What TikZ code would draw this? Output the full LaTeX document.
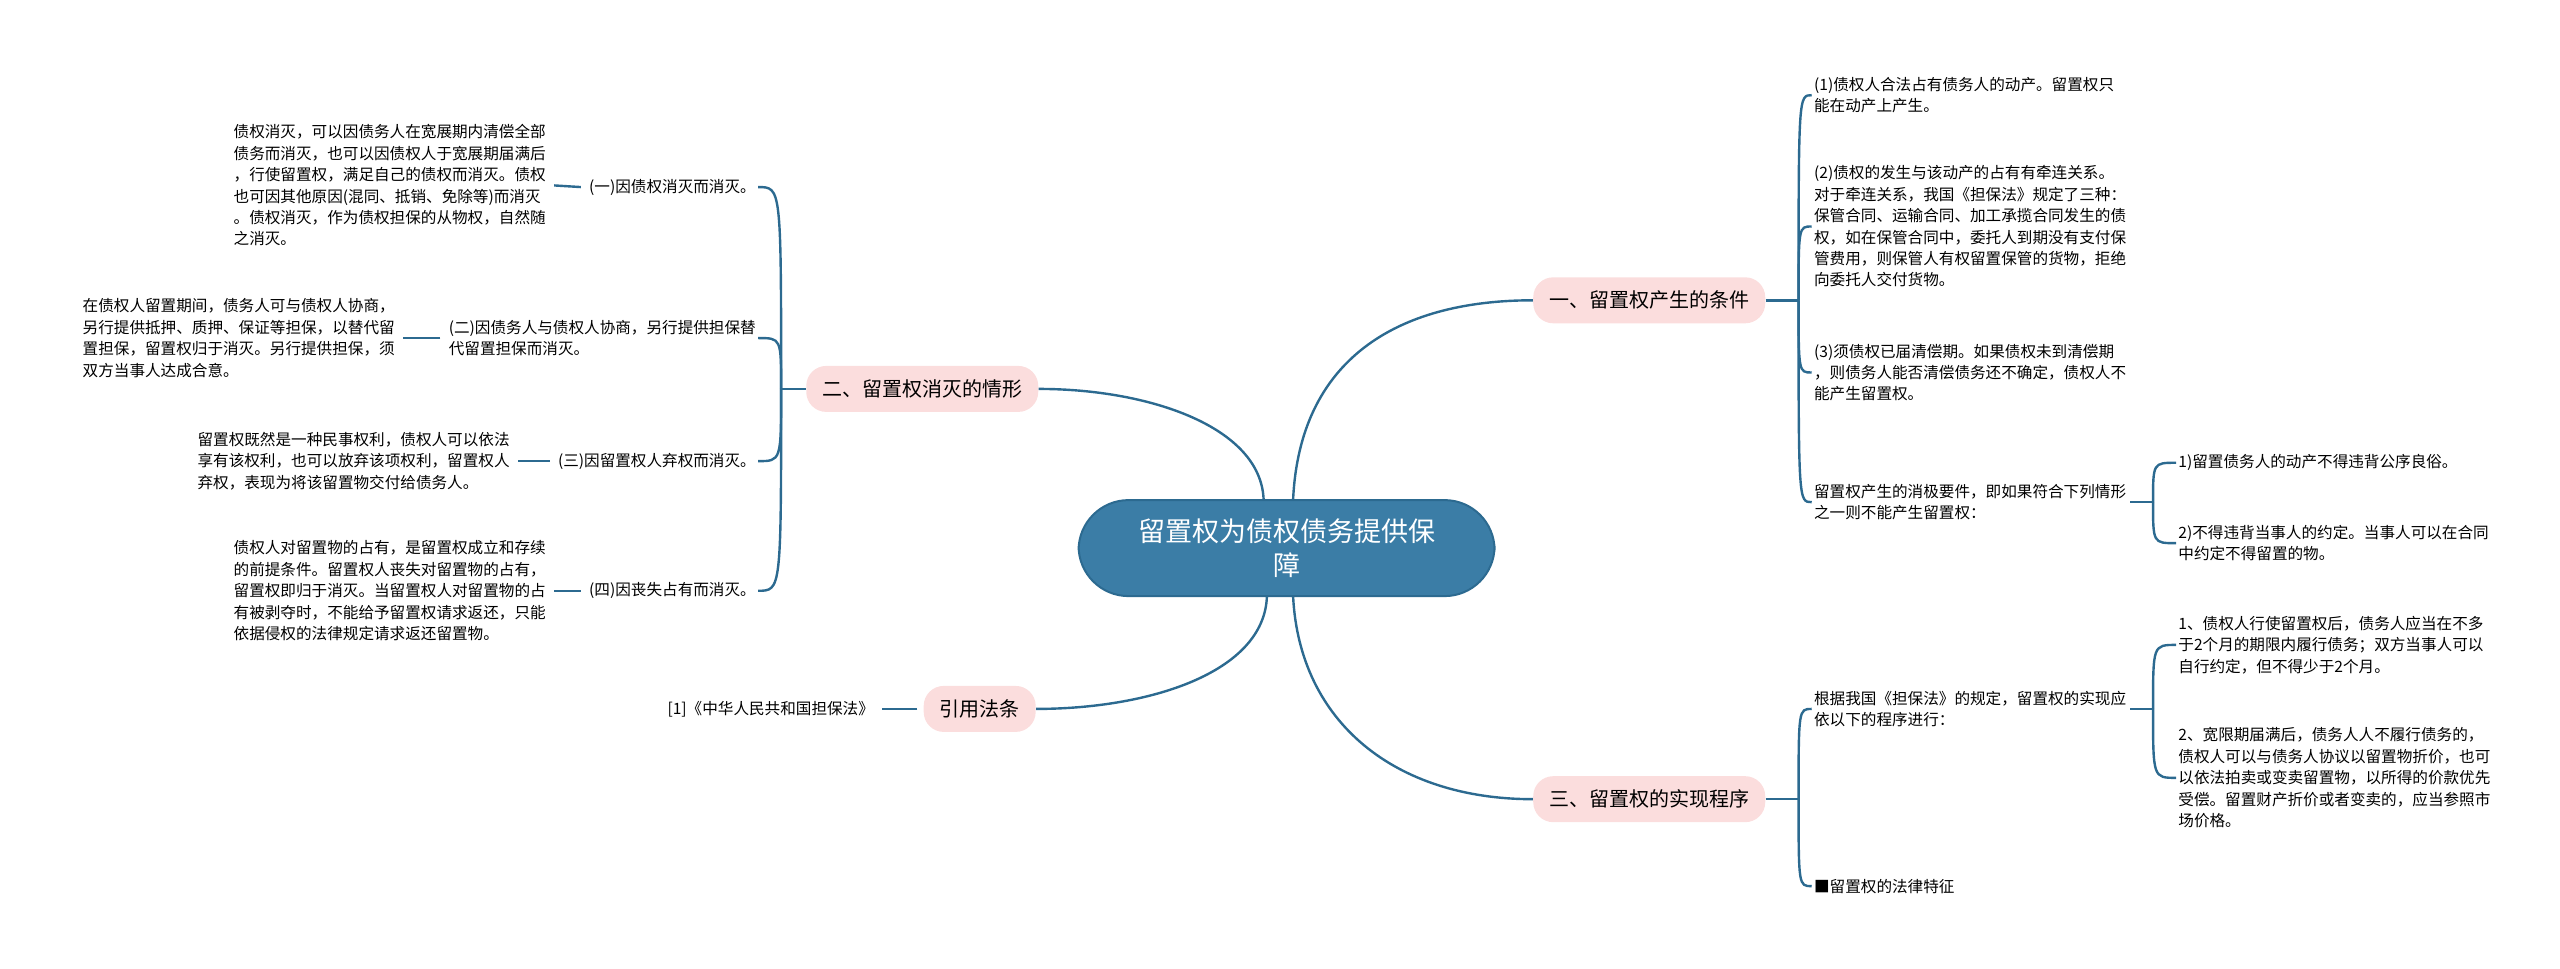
\documentclass[tikz,border=0pt]{standalone}
\usepackage{fontspec}
\setmainfont{Noto Sans CJK SC}
\definecolor{linkBlue}{HTML}{2C6A90}
\definecolor{rootBlue}{HTML}{3B7DA6}
\definecolor{topicPink}{HTML}{FBDDDD}
\begin{document}
\begin{tikzpicture}[x=0.8205pt, y=-0.8205pt]
        \tikzstyle{rootStyle} = [rectangle, rounded corners=25pt, fill=rootBlue, draw=linkBlue,
            line width=1pt, text=white, font=\fontsize{13.5}{17}\selectfont,
            minimum width=208pt, minimum height=48pt, align=center]
        \tikzstyle{topicStyle} = [rectangle, rounded corners=10pt, fill=topicPink,
            font=\fontsize{10}{12}\selectfont, minimum height=23pt, inner xsep=8pt]
        \tikzstyle{leafStyle} = [font=\fontsize{7.8}{10.7}\selectfont, align=left, inner sep=1pt]
        \tikzstyle{linkEdge} = [draw=linkBlue, line width=1.2pt]
        \useasboundingbox (0,0) rectangle (1560,590);
        % root and main topics
        \node[rootStyle] (root) at (784,334) {留置权为债权债务提供保\\障};
        \node[topicStyle] (cond) at (1005,183) {一、留置权产生的条件};
        \node[topicStyle] (proc) at (1005,487) {三、留置权的实现程序};
        \node[topicStyle] (ends) at (562,237) {二、留置权消灭的情形};
        \node[topicStyle] (laws) at (597,432) {引用法条};
        \path[linkEdge] (root.north) ++(4,0) .. controls (792,220) and (850,183) .. (cond.west);
        \path[linkEdge] (root.south) ++(4,0) .. controls (792,440) and (850,487) .. (proc.west);
        \path[linkEdge] (root.north) ++(-14,0) .. controls (768,260) and (700,237) .. (ends.east);
        \path[linkEdge] (root.south) ++(-12,0) .. controls (770,410) and (700,432) .. (laws.east);
        % conditions
        \node[leafStyle, anchor=west] (c1) at (1104,58) {(1)债权人合法占有债务人的动产。留置权只\\能在动产上产生。};
        \node[leafStyle, anchor=west] (c2) at (1104,138) {(2)债权的发生与该动产的占有有牵连关系。\\对于牵连关系，我国《担保法》规定了三种：\\保管合同、运输合同、加工承揽合同发生的债\\权，如在保管合同中，委托人到期没有支付保\\管费用，则保管人有权留置保管的货物，拒绝\\向委托人交付货物。};
        \node[leafStyle, anchor=west] (c3) at (1104,227) {(3)须债权已届清偿期。如果债权未到清偿期\\，则债务人能否清偿债务还不确定，债权人不\\能产生留置权。};
        \node[leafStyle, anchor=west] (c4) at (1104,306) {留置权产生的消极要件，即如果符合下列情形\\之一则不能产生留置权：};
        \node[leafStyle, anchor=west] (c41) at (1326,282) {1)留置债务人的动产不得违背公序良俗。};
        \node[leafStyle, anchor=west] (c42) at (1326,331) {2)不得违背当事人的约定。当事人可以在合同\\中约定不得留置的物。};
        % procedure
        \node[leafStyle, anchor=west] (p1) at (1104,432) {根据我国《担保法》的规定，留置权的实现应\\依以下的程序进行：};
        \node[leafStyle, anchor=west] (p2) at (1104,540) {■留置权的法律特征};
        \node[leafStyle, anchor=west] (p11) at (1326,393) {1、债权人行使留置权后，债务人应当在不多\\于2个月的期限内履行债务；双方当事人可以\\自行约定，但不得少于2个月。};
        \node[leafStyle, anchor=west] (p12) at (1326,474) {2、宽限期届满后，债务人人不履行债务的，\\债权人可以与债务人协议以留置物折价，也可\\以依法拍卖或变卖留置物，以所得的价款优先\\受偿。留置财产折价或者变卖的，应当参照市\\场价格。};
        % extinction
        \node[leafStyle, anchor=east] (e1) at (462,114) {(一)因债权消灭而消灭。};
        \node[leafStyle, anchor=east] (e2) at (462,206) {(二)因债务人与债权人协商，另行提供担保替\\代留置担保而消灭。};
        \node[leafStyle, anchor=east] (e3) at (462,281) {(三)因留置权人弃权而消灭。};
        \node[leafStyle, anchor=east] (e4) at (462,360) {(四)因丧失占有而消灭。};
        \node[leafStyle, anchor=east] (d1) at (334,113) {债权消灭，可以因债务人在宽展期内清偿全部\\债务而消灭，也可以因债权人于宽展期届满后\\，行使留置权，满足自己的债权而消灭。债权\\也可因其他原因(混同、抵销、免除等)而消灭\\。债权消灭，作为债权担保的从物权，自然随\\之消灭。};
        \node[leafStyle, anchor=east] (d2) at (242,206) {在债权人留置期间，债务人可与债权人协商，\\另行提供抵押、质押、保证等担保，以替代留\\置担保，留置权归于消灭。另行提供担保，须\\双方当事人达成合意。};
        \node[leafStyle, anchor=east] (d3) at (312,281) {留置权既然是一种民事权利，债权人可以依法\\享有该权利，也可以放弃该项权利，留置权人\\弃权，表现为将该留置物交付给债务人。};
        \node[leafStyle, anchor=east] (d4) at (334,360) {债权人对留置物的占有，是留置权成立和存续\\的前提条件。留置权人丧失对留置物的占有，\\留置权即归于消灭。当留置权人对留置物的占\\有被剥夺时，不能给予留置权请求返还，只能\\依据侵权的法律规定请求返还留置物。};
        \node[leafStyle, anchor=east] (l1) at (534,432) {[1]《中华人民共和国担保法》};
        % brackets
        \coordinate (jc) at (1096,183);
        \coordinate (jp) at (1096,487);
        \coordinate (jn) at (1312,306);
        \coordinate (jq) at (1312,432);
        \coordinate (je) at (476,237);
        \path[linkEdge] (cond.east) -- (jc) (proc.east) -- (jp) (ends.west) -- (je)
            (1298,306) -- (jn) (1298,432) -- (jq);
        \foreach \leaf in {c1,c2,c3,c4}
            \path[linkEdge] (jc) .. controls (jc |- \leaf.west) .. (\leaf.west);
        \foreach \leaf in {p1,p2}
            \path[linkEdge] (jp) .. controls (jp |- \leaf.west) .. (\leaf.west);
        \foreach \leaf in {c41,c42}
            \path[linkEdge] (jn) .. controls (jn |- \leaf.west) .. (\leaf.west);
        \foreach \leaf in {p11,p12}
            \path[linkEdge] (jq) .. controls (jq |- \leaf.west) .. (\leaf.west);
        \foreach \leaf in {e1,e2,e3,e4}
            \path[linkEdge] (je) .. controls (je |- \leaf.east) .. (\leaf.east);
        \foreach \from/\to in {e1/d1,e2/d2,e3/d3,e4/d4,laws/l1}
            \path[linkEdge] ([xshift=-3]\from.west) -- ([xshift=3]\to.east);
\end{tikzpicture}
\end{document}
